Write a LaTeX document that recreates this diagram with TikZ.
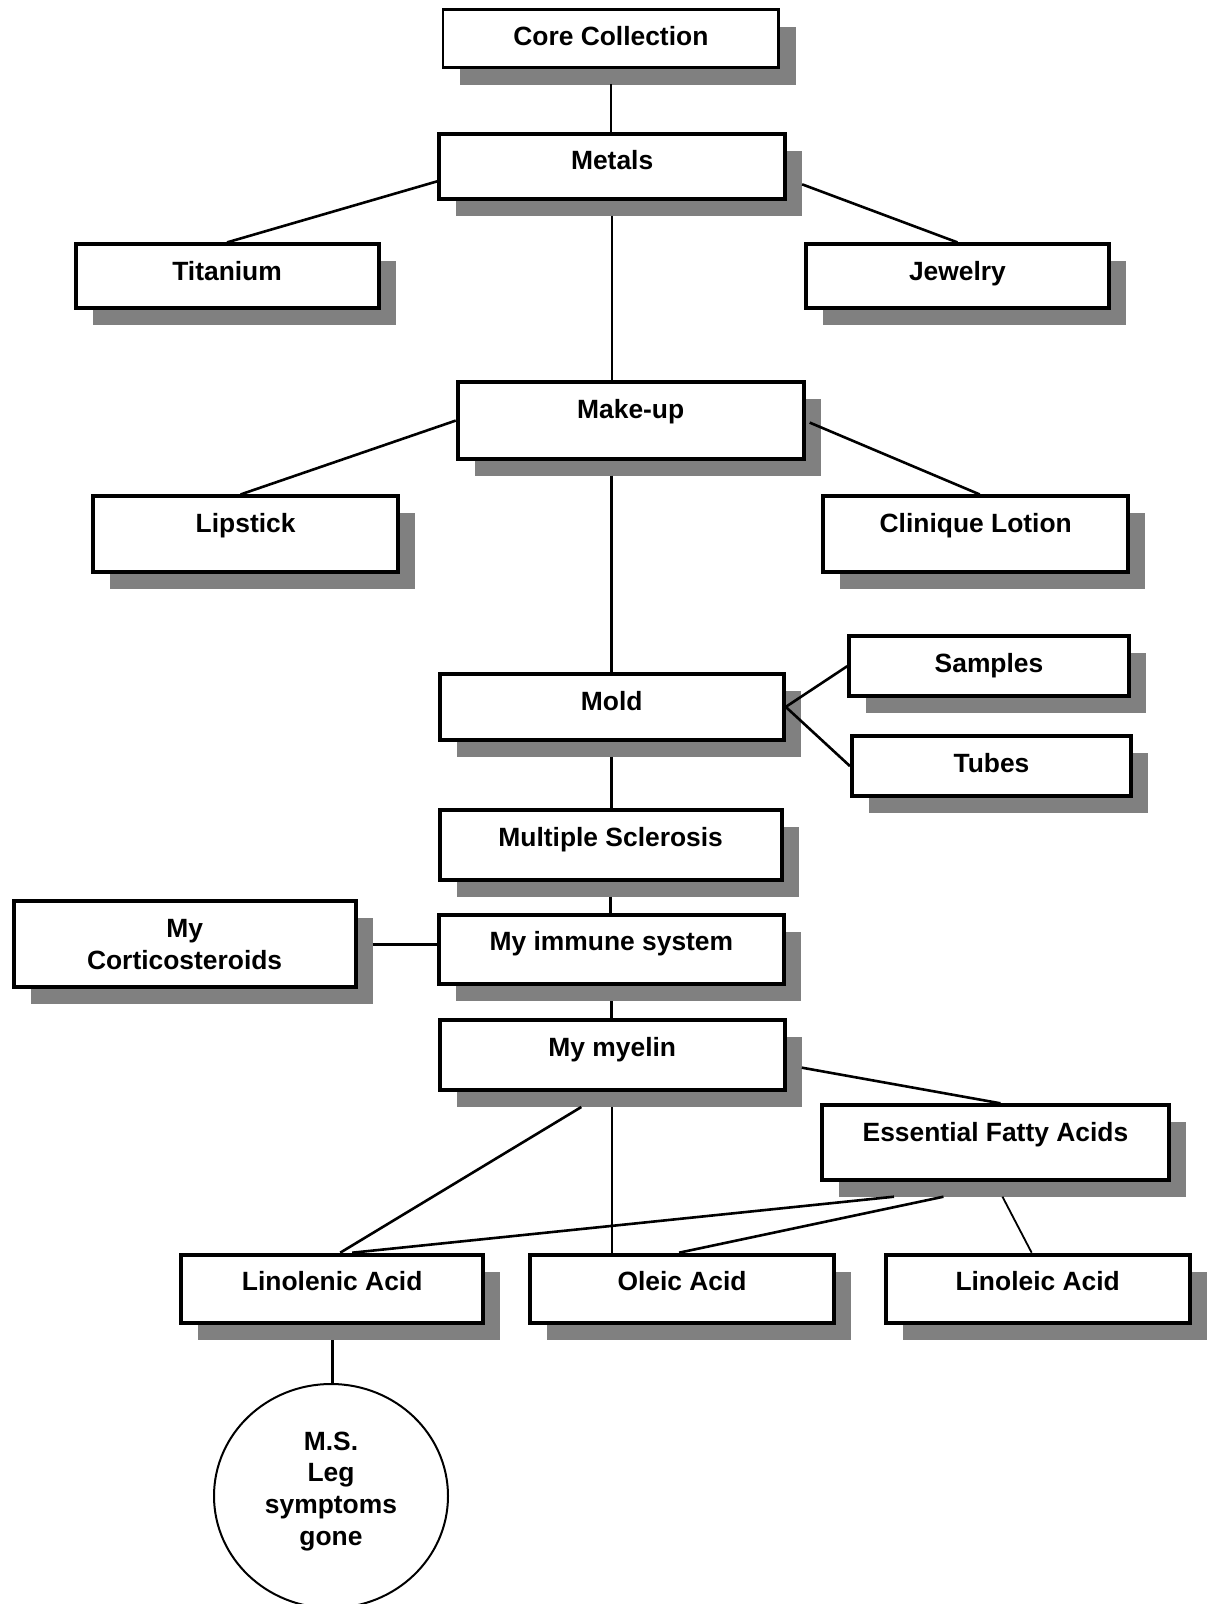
\documentclass[tikz,border=0pt]{standalone}
\usepackage{fontspec}
\setmainfont{Liberation Sans}
\usetikzlibrary{positioning, shapes.geometric, shadows, calc}

\newlength{\pxu}
\setlength{\pxu}{0.5pt}

\begin{document}
\begin{tikzpicture}[
  x=0.5pt, y=-0.5pt,
  % Node Styles
  framebox/.style={rectangle, draw, fill=white, line width=2pt, inner sep=0pt,
    drop shadow={shadow xshift=17\pxu, shadow yshift=-17\pxu, fill=black!50, opacity=1}},
  topbox/.style={framebox, text height=36\pxu},
  corebox/.style={topbox, line width=1.35pt},
  endnode/.style={ellipse, draw, line width=1pt, inner sep=0pt, align=center, minimum width=234\pxu, minimum height=224\pxu},
  % Line Styles
  link/.style={line width=1.3pt},
  thinlink/.style={line width=0.9pt}
]
\tikzset{font=\fontsize{13.2}{15.8}\selectfont\bfseries} % Arial-like bold labels

\useasboundingbox (0,0) rectangle (1213,1604);

% Nodes
\node[corebox, minimum width=335.6\pxu, text depth=22\pxu] (core) at (610.85,38.65) {Core Collection};
\node[topbox, minimum width=346\pxu, text depth=29.3\pxu] (metals) at (612.15,166.35) {Metals};
\node[topbox, minimum width=303\pxu, text depth=27.5\pxu] (titanium) at (227.05,276.15) {Titanium};
\node[topbox, minimum width=303\pxu, text depth=27.5\pxu, right=423.4\pxu of titanium] (jewelry) {Jewelry};
\node[topbox, minimum width=346\pxu, text depth=40.2\pxu] (makeup) at (630.7,420.6) {Make-up};
\node[topbox, minimum width=305\pxu, text depth=39.5\pxu] (lipstick) at (245.6,534.2) {Lipstick};
\node[topbox, minimum width=305\pxu, text depth=39.5\pxu, right=421.1\pxu of lipstick] (clinique) {Clinique Lotion};
\node[topbox, minimum width=344\pxu, text depth=29.2\pxu] (mold) at (611.75,706.9) {Mold};
\node[topbox, minimum width=279.4\pxu, text depth=24.3\pxu] (samples) at (989,666.15) {Samples};
\node[topbox, minimum width=279\pxu, text depth=24.3\pxu] (tubes) at (991.5,766.15) {Tubes};
\node[topbox, minimum width=341.7\pxu, text depth=33.6\pxu] (ms) at (610.65,844.8) {Multiple Sclerosis};
\node[framebox, align=center, minimum width=342.2\pxu, minimum height=86\pxu] (cortico) at (184.6,944.3) {My\\Corticosteroids};
\node[topbox, minimum width=344.4\pxu, text depth=33.3\pxu] (immune) at (611.4,949.35) {My immune system};
\node[topbox, minimum width=345\pxu, text depth=33.7\pxu] (myelin) at (612.3,1055.15) {My myelin};
\node[topbox, minimum width=347.9\pxu, text depth=38.4\pxu] (efa) at (995.45,1142.5) {Essential Fatty Acids};
\node[topbox, minimum width=302.4\pxu, text depth=32.3\pxu] (linolenic) at (332.2,1288.85) {Linolenic Acid};
\node[topbox, minimum width=304.3\pxu, text depth=32.3\pxu, right=42.5\pxu of linolenic] (oleic) {Oleic Acid};
\node[topbox, minimum width=303.7\pxu, text depth=32.3\pxu, right=47.6\pxu of oleic] (linoleic) {Linoleic Acid};
\node[endnode, text height=114\pxu, text depth=16\pxu] (gone) at (331,1496) {M.S.\\Leg\\symptoms\\gone};

% Lines
\draw[link] ($(core.south)+(0,15)$) -- (core.south |- metals.north);
\draw[link] ($(metals.west)+(0,15)$) -- (titanium.north);
\draw[link] ($(metals.east)+(15,18)$) -- (jewelry.north);
\draw[link] ($(metals.south)+(0,15)$) -- (metals.south |- makeup.north);
\draw[link] (makeup.west) -- ($(lipstick.north)+(-5,0)$);
\draw[link] ($(makeup.east)+(4,2)$) -- ($(clinique.north)+(4,0)$);
\draw[link] ($(mold.north |- makeup.south)+(0,15)$) -- (mold.north);
\draw[link] (mold.east) -- (samples.west);
\draw[link] (mold.east) -- (tubes.west);
\draw[link] ($(mold.south)+(0,15)$) -- (mold.south |- ms.north);
\draw[link] ($(ms.south)+(0,15)$) -- (ms.south |- immune.north);
\draw[link] ($(cortico.east)+(15,0)$) -- (cortico.east -| immune.west);
\draw[link] ($(immune.south)+(0,15)$) -- (immune.south |- myelin.north);
\draw[link] ($(myelin.east)+(15,12.5)$) -- ($(efa.north)+(5,0)$);
\draw[link] ($(myelin.south)+(-31,15)$) -- ($(linolenic.north)+(8,0)$);
\draw[thinlink] ($(myelin.south)+(0,15)$) -- (myelin.south |- oleic.north);
\draw[link] ($(efa.south)+(-101.5,15)$) -- ($(linolenic.north)+(20,0)$);
\draw[link] ($(efa.south)+(-52,15)$) -- ($(oleic.north)+(-3,0)$);
\draw[thinlink] ($(efa.south)+(7,15)$) -- ($(linoleic.north)+(-6,0)$);
\draw[link] ($(linolenic.south)+(0,15)$) -- (linolenic.south |- gone.north);

\end{tikzpicture}
\end{document}
